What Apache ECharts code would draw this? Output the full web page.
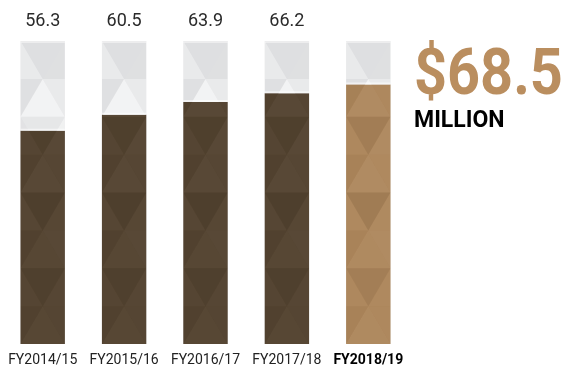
<!DOCTYPE html>
<html>
<head>
<meta charset="utf-8">
<script src="https://cdn.jsdelivr.net/npm/echarts@6/dist/echarts.min.js"></script>
<style>
  html, body { margin: 0; padding: 0; background: #ffffff; }
  #chart { width: 568px; height: 369px; }
</style>
</head>
<body>
<div id="chart"></div>
<script>
// Annual funding, in millions of dollars
const categories = ['FY2014/15', 'FY2015/16', 'FY2016/17', 'FY2017/18', 'FY2018/19'];
const values = [56.3, 60.5, 63.9, 66.2, 68.5];
const columnMax = 80;          // height of the grey backing column
const highlightIndex = 4;      // current year, called out on the right
const headlineUnit = 'MILLION';

// Faceted (low-poly) shading: per band [left, centre, right];
// positive = white overlay, negative = black overlay
const greyShades = [
  [0.35, 0.00, 0.03], [0.05, 0.62, 0.35], [0.12, 0.25, 0.55], [0.05, 0.3, 0.2],
  [0.2, 0.05, 0.3], [0.05, 0.3, 0.15], [0.2, 0.05, 0.25], [0.05, 0.3, 0.1]
];
const fillShades = [
  [0.02, -0.04, 0.025], [-0.025, 0.03, 0.015], [0.015, -0.045, 0.03], [-0.02, 0.03, 0.02],
  [0.02, -0.05, 0.025], [-0.015, 0.025, 0.03], [0.015, -0.04, 0.02], [-0.02, 0.025, 0.015]
];
const BANDS = 8;

function overlay(s) {
  return s >= 0 ? 'rgba(255,255,255,' + s + ')' : 'rgba(0,0,0,' + (-s) + ')';
}

// keep the part of a polygon on one side of a horizontal line
function clipY(pts, y, keepBelow) {
  const out = [];
  for (let i = 0; i < pts.length; i++) {
    const a = pts[i], b = pts[(i + 1) % pts.length];
    const ina = keepBelow ? a[1] >= y : a[1] <= y;
    const inb = keepBelow ? b[1] >= y : b[1] <= y;
    if (ina) out.push(a);
    if (ina !== inb) {
      const t = (y - a[1]) / (b[1] - a[1]);
      out.push([a[0] + t * (b[0] - a[0]), y]);
    }
  }
  return out;
}

function renderItem(params, api) {
  const idx = api.value(0);
  const v = api.value(1);
  const base = api.coord([idx, 0]);
  const top = api.coord([idx, columnMax]);
  const fillTop = api.coord([idx, v]);
  const bw = api.size([1, 0])[0] * 0.545;
  const cx = base[0];
  const left = cx - bw / 2, right = cx + bw / 2;
  const yTop = top[1], yBase = base[1], yFill = fillTop[1];
  const isHi = idx === highlightIndex;
  const fillColor = isHi ? '#AD865B' : '#534330';
  const children = [];

  children.push({ type: 'rect', shape: { x: left, y: yTop, width: bw, height: yBase - yTop }, style: { fill: '#DEDFE1' } });
  children.push({ type: 'rect', shape: { x: left, y: yFill, width: bw, height: yBase - yFill }, style: { fill: fillColor } });

  const H = (yBase - yTop) / BANDS;
  for (let k = 0; k < BANDS; k++) {
    const y0 = yTop + k * H, y1 = y0 + H;
    let polys;
    if (k % 2 === 0) {
      polys = [
        [[left, y0], [cx, y1], [left, y1]],
        [[left, y0], [right, y0], [cx, y1]],
        [[right, y0], [right, y1], [cx, y1]]
      ];
    } else {
      polys = [
        [[left, y0], [cx, y0], [left, y1]],
        [[cx, y0], [right, y1], [left, y1]],
        [[cx, y0], [right, y0], [right, y1]]
      ];
    }
    polys.forEach(function (p, j) {
      const g = clipY(p, yFill, false);
      if (g.length >= 3 && greyShades[k][j] !== 0) {
        children.push({ type: 'polygon', shape: { points: g }, style: { fill: overlay(greyShades[k][j]) } });
      }
      const f = clipY(p, yFill, true);
      if (f.length >= 3) {
        children.push({ type: 'polygon', shape: { points: f }, style: { fill: overlay(fillShades[k][j] * (isHi ? 1.4 : 1)) } });
      }
    });
  }
  // light rim at the column top and above the filled part
  children.push({ type: 'rect', shape: { x: left, y: yTop, width: bw, height: 2 }, style: { fill: 'rgba(255,255,255,0.45)' } });
  children.push({ type: 'rect', shape: { x: left, y: yFill - 2, width: bw, height: 2 }, style: { fill: 'rgba(255,255,255,0.55)' } });

  if (!isHi) {
    children.push({
      type: 'text',
      style: {
        x: cx, y: yTop - 20, text: v.toFixed(1),
        font: '18px Roboto', fill: '#2a2a2a', align: 'center', verticalAlign: 'middle'
      }
    });
  }
  return { type: 'group', children: children };
}

const chart = echarts.init(document.getElementById('chart'), null, { renderer: 'canvas' });
chart.setOption({
  animation: false,
  grid: { left: 2, width: 407, top: 41, bottom: 25 },
  xAxis: {
    type: 'category',
    data: categories,
    axisLine: { show: false },
    axisTick: { show: false },
    axisLabel: {
      interval: 0,
      hideOverlap: false,
      margin: 9,
      formatter: function (val, i) { return i === highlightIndex ? '{b|' + val + '}' : '{n|' + val + '}'; },
      rich: {
        n: { fontFamily: 'Roboto', fontSize: 14, color: '#222' },
        b: { fontFamily: 'Roboto', fontSize: 14, fontWeight: 'bold', color: '#000' }
      }
    }
  },
  yAxis: { type: 'value', min: 0, max: columnMax, show: false },
  series: [{
    type: 'custom',
    renderItem: renderItem,
    encode: { x: 0, y: 1 },
    data: values.map(function (v, i) { return [i, v]; })
  }],
  graphic: [
    {
      type: 'text', x: 414, y: 46, scaleX: 0.9,
      style: { text: '$' + values[highlightIndex].toFixed(1), font: 'bold 64px Roboto', fill: '#BA8E5F' }
    },
    {
      type: 'text', x: 414, y: 110,
      style: { text: headlineUnit, font: 'bold 23px Roboto', fill: '#000' }
    }
  ]
});
</script>
</body>
</html>
